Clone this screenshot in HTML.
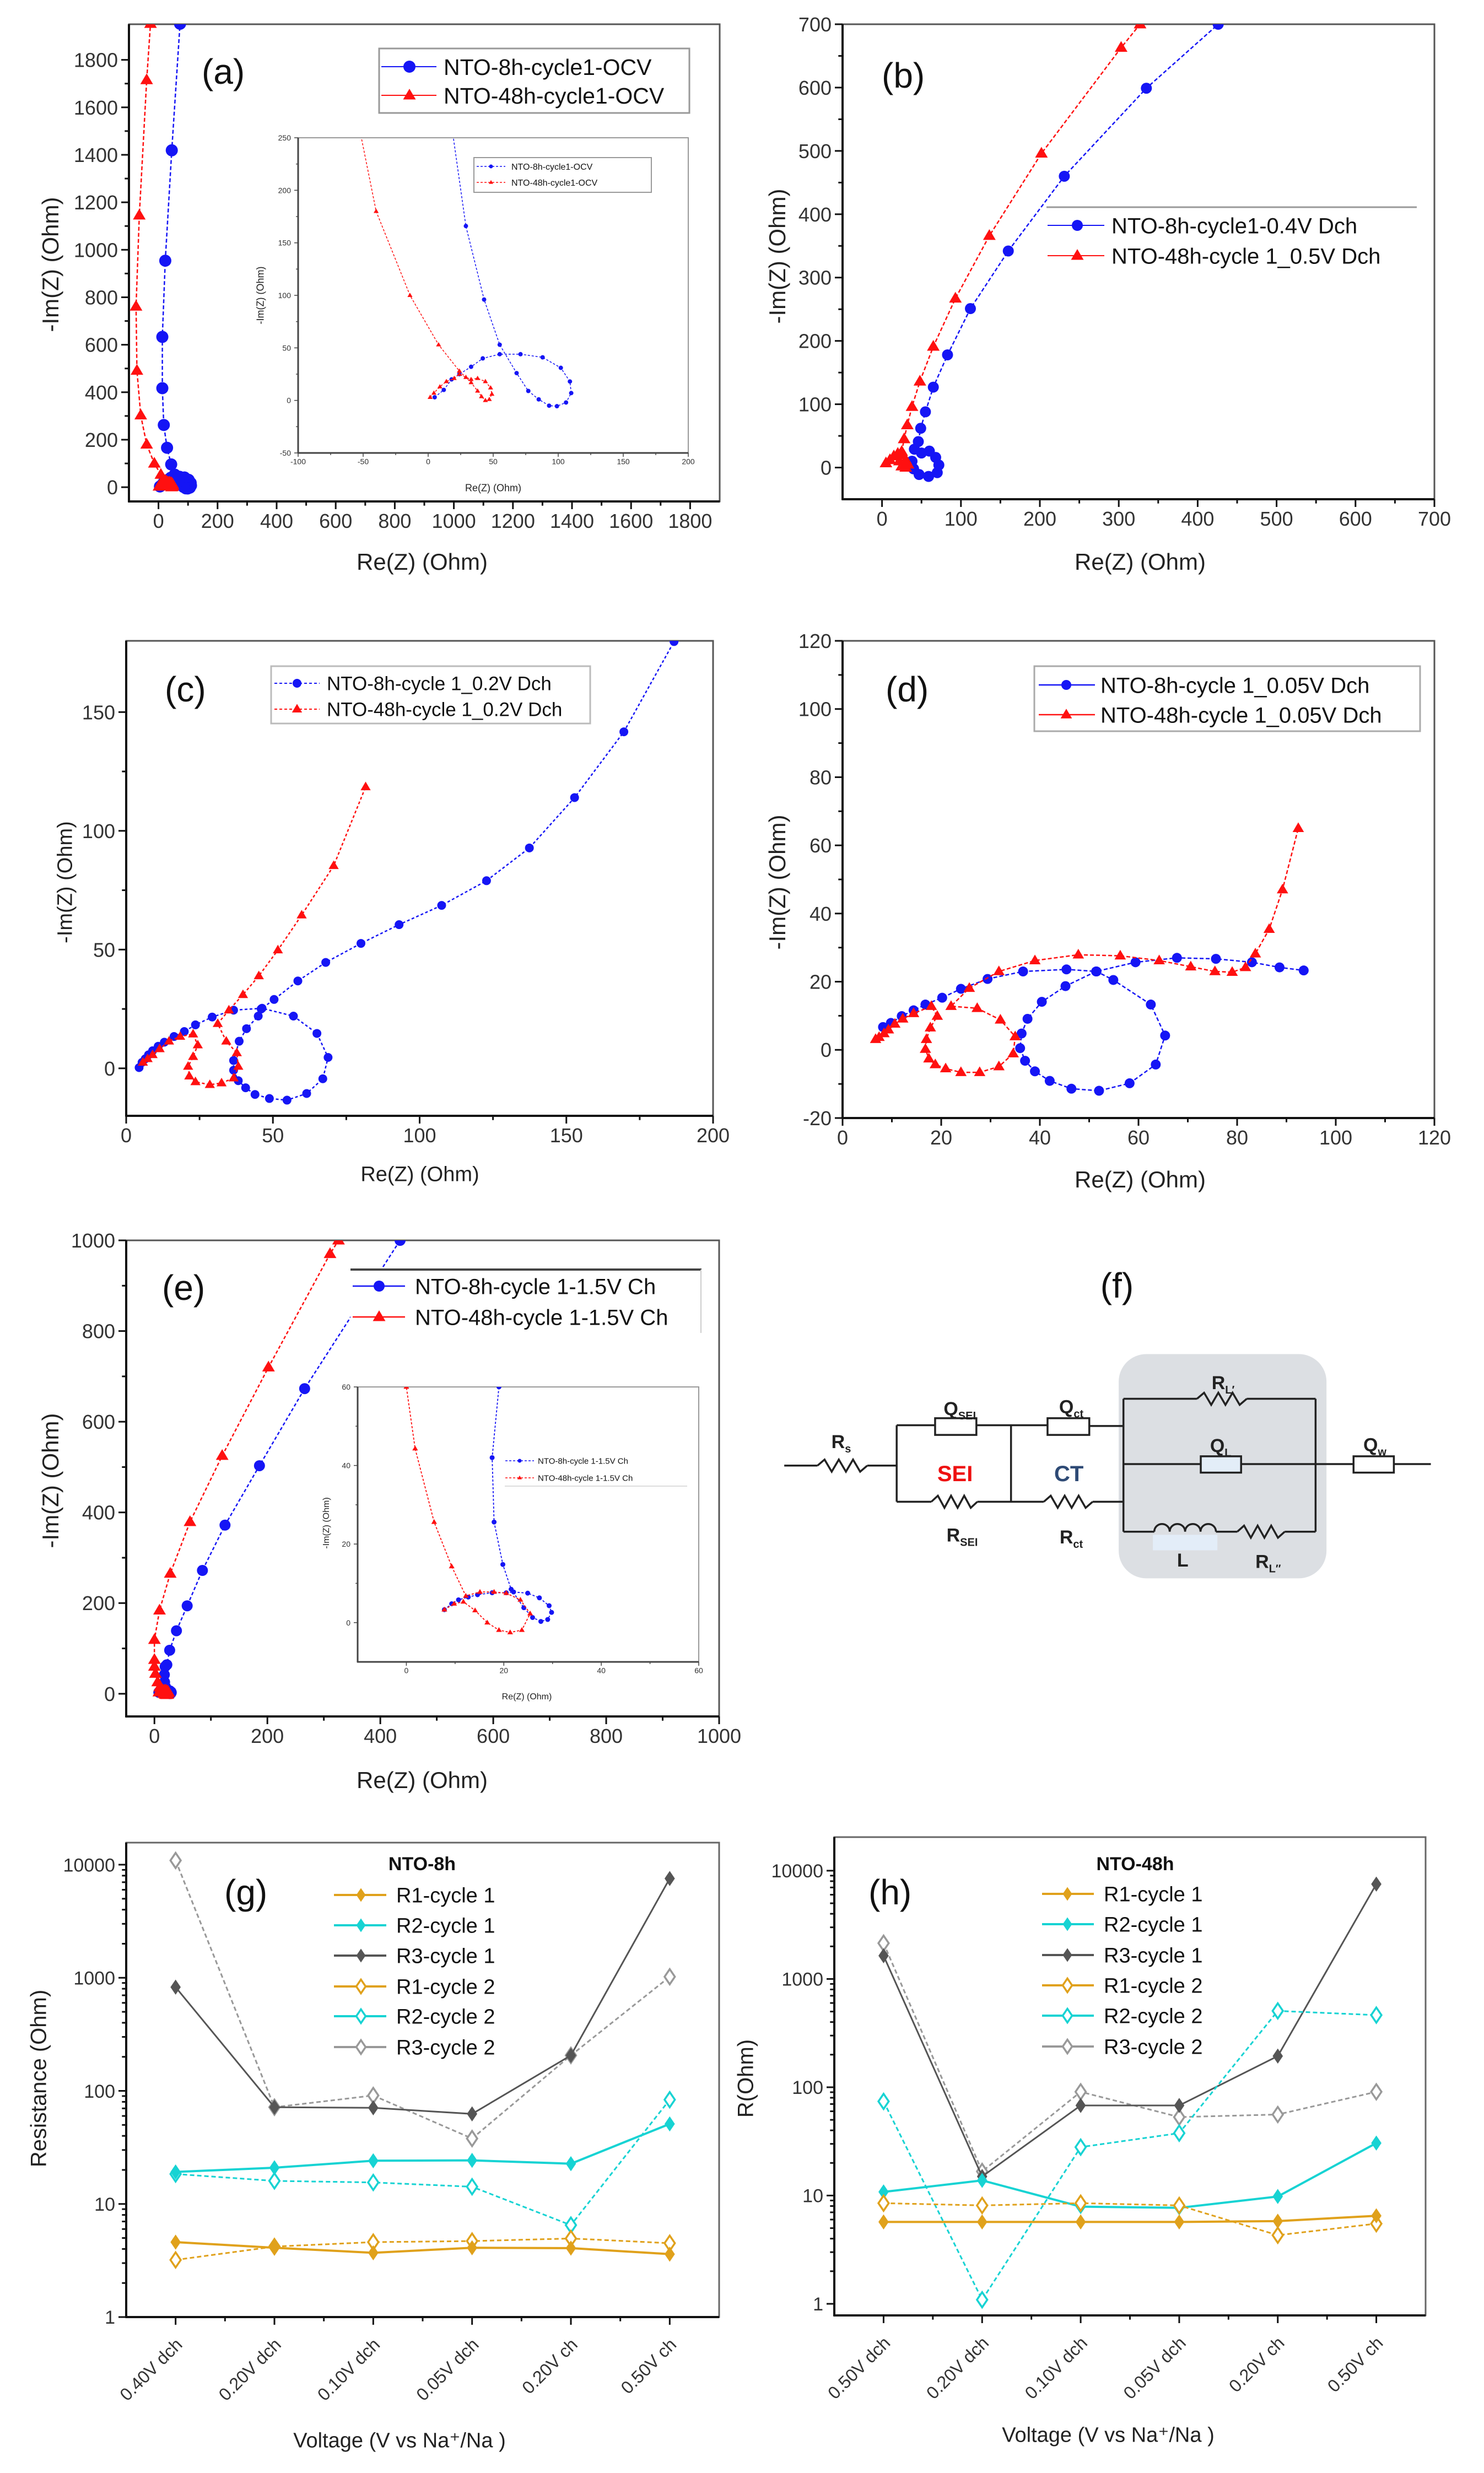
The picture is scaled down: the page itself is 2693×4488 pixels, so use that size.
<!DOCTYPE html>
<html><head><meta charset="utf-8"><style>
html,body{margin:0;padding:0;background:#fff;}
svg{display:block;font-family:"Liberation Sans",Arial,sans-serif;}
</style></head><body>
<svg id="fig" width="2693" height="4488" viewBox="0 0 2693 4488" xmlns="http://www.w3.org/2000/svg">
<rect x="0" y="0" width="2693" height="4488" fill="#fff"/>
</svg>
<script>
// ===== (a) data =====
const aBlueRe=[5,12,18,24,33,42,55,71,88,102,109,110,106,99,93,85,77,68,55,43,29,18,13,13,23,45,73];
const aBlueIm=[3,10,20,25,32,40,44,44,41,31,18,7,-2,-5.5,-5,1,9,26,53,96,166,262,417,633,954,1419,1952];
const aRedRe=[1.5,4.4,9,14,20,24,29,33,38,44,48,49,47,44,41,38,33,24,8,-14,-40,-60,-73,-76,-65,-40,-27];
const aRedIm=[3,7,13,18,21,25,22,20,21,18,12,6,1,0,3.7,9,17,28,53,100,180,303,491,761,1145,1715,1952];
const aXTicks=[0,200,400,600,800,1000,1200,1400,1600,1800];
const aYTicks=[0,200,400,600,800,1000,1200,1400,1600,1800];
const aInXTicks=[-100,-50,0,50,100,150,200];
const aInYTicks=[-50,0,50,100,150,200,250];
// ===== (b) data =====
const bBlueRe=[38,40,47,59,70,72,68,60,50,41,46,49,55,65,83,112,160,231,335,426];
const bBlueIm=[10,-2,-11,-14,-8,4,16,26,23,29,41,62,88,127,178,251,342,460,599,700];
const bRedRe=[5,10,15,20,26,30,33,30,25,22,25,28,32,38,48,65,93,136,202,303,327];
const bRedIm=[7,12,18,22,20,12,5,0,2,10,25,45,67,96,136,191,267,366,496,663,700];
const bXTicks=[0,100,200,300,400,500,600,700];
const bYTicks=[0,100,200,300,400,500,600,700];
// ===== (c) data =====
const cBlueRe=[4.4,5.4,6.5,7.6,9,10.9,13,16.3,19.8,23.6,29.3,36.6,46.3,57,65,68.8,67,61.5,54.8,48.8,43.9,40.7,38.2,36.6,36.6,38.5,41,45,46,50.4,58.5,68,80,93,107.5,122.8,137.4,152.8,169.6,186.7];
const cBlueIm=[0.3,2.5,4,5.7,7.4,9.3,11,13.4,15.5,18.3,21.6,24.5,25.3,22,14.7,4.6,-4.4,-10.6,-13.4,-12.7,-11,-8.2,-5.2,-0.8,3.3,11.4,16.7,22,25,29,36.8,44.6,52.6,60.5,68.6,79,92.8,114,141.7,179.7];
const cRedRe=[5.7,7.3,9,11.4,14.6,18.4,22.8,24.4,22.8,21.1,21.5,23.6,28.5,32.5,36.6,38.2,37.7,34.1,31.2,35,39.8,45.2,51.7,59.8,70.7,81.6];
const cRedIm=[2.5,4,5.7,8.2,11.4,13.4,14.4,9.8,4.9,0.8,-3.3,-5.7,-6.9,-6.2,-4.1,0.8,6.5,11.4,18.8,24.5,31,38.9,49.8,64.5,85.3,118.5];
const cXTicks=[0,50,100,150,200];
const cYTicks=[0,50,100,150];
// ===== (d) data =====
const dBlueRe=[8.2,9.8,12,14.4,16.8,20.2,24,29.4,36.6,45.4,51.5,54.9,62.5,65.4,63.5,58.2,52,46.4,42,39,37,36,36.3,37.5,40.4,45.2,51.4,59.4,67.8,75.7,83,88.6,93.5];
const dBlueIm=[6.7,7.9,9.9,11.6,13.3,15.3,17.9,20.8,23,23.6,23,20.5,13.3,4.2,-4.3,-9.8,-12,-11.4,-9.1,-6.3,-3.2,0.5,4.8,9.1,14.1,18.7,23,25.7,27,26.7,25.7,24.2,23.3];
const dRedRe=[6.7,7.4,8.4,9.3,10.6,12.2,14.4,18,19.2,17.8,17,16.8,17.5,18.8,20.9,24,27.8,31.7,34.6,35,32,27.3,22,25.7,31.7,39,47.8,56.3,64.2,70.6,75.5,79,81.7,83.7,86.5,89.2,92.4];
const dRedIm=[3.1,3.7,4.8,5.9,7.6,9.1,10.7,12.8,9.9,6.5,3.1,0.2,-2.6,-4.3,-5.5,-6.6,-6.6,-4.9,-1.1,3.9,8.8,12.2,12.8,18.1,23,26.2,27.9,27.6,26.2,24.4,23,22.8,24.2,28.2,35.4,47,65];
const dXTicks=[0,20,40,60,80,100,120];
const dYTicks=[-20,0,20,40,60,80,100,120];
// ===== (e) data =====
const eBlueRe=[7.8,9.3,10.7,12.7,14.6,17.6,20.5,22,24.9,27.3,29.3,29.8,29,27.6,25.9,24.1,21.5,19.8,18,17.6,19,22,27,39,58,85,125,186,266,435];
const eBlueIm=[3.3,4.8,5.8,6.5,7.1,7.6,7.6,7.8,7.5,6.3,4.3,2.6,0.8,0.3,1.3,3.8,8.5,14.8,25.6,42,60,64,96,139,194,272,372,503,673,1000];
const eRedRe=[7.8,9.8,11.7,14.1,16.6,19,21.3,23.7,25.4,23.4,20.5,18,15.1,12.2,9.3,5.7,1.8,0,0,0,9,28,63,120,202,311,326];
const eRedIm=[3.3,4.8,5.3,3.1,0,-1.9,-2.5,-1.9,2.3,5.8,7.5,7.8,7.8,6.8,14.3,25.6,44.3,60,75,119,184,265,379,525,720,970,1000];
const eXTicks=[0,200,400,600,800,1000];
const eYTicks=[0,200,400,600,800,1000];
const eInTicks=[0,20,40,60];
// ===== (g) data =====
const gCats=['0.40V dch','0.20V dch','0.10V dch','0.05V dch','0.20V ch','0.50V ch'];
const gR1c1=[4.6,4.1,3.7,4.1,4.07,3.6];
const gR2c1=[19.2,20.9,24.1,24.3,22.7,51];
const gR3c1=[826,71.7,70.8,62.6,206,7550];
const gR1c2=[3.2,4.2,4.6,4.7,4.95,4.5];
const gR2c2=[18.4,16,15.5,14.2,6.5,83.6];
const gR3c2=[10900,71.7,91,37.9,206,1021];
// ===== (h) data =====
const hCats=['0.50V dch','0.20V dch','0.10V dch','0.05V dch','0.20V ch','0.50V ch'];
const hR1c1=[5.7,5.7,5.7,5.7,5.8,6.5];
const hR2c1=[10.8,13.8,7.9,7.7,9.8,30.5];
const hR3c1=[1640,15,67.9,67.9,194,7520];
const hR1c2=[8.5,8.1,8.5,8.1,4.3,5.5];
const hR2c2=[74,1.09,28,37.7,507,464];
const hR3c2=[2140,16.7,90.8,53,56,90.8];
const logTicks=[1,10,100,1000,10000];

const NS='http://www.w3.org/2000/svg';
const svg=document.getElementById('fig');
function el(tag,attrs,parent){const e=document.createElementNS(NS,tag);for(const k in attrs)e.setAttribute(k,attrs[k]);(parent||svg).appendChild(e);return e;}
function txt(s,attrs,parent){const t=el('text',attrs,parent);t.textContent=s;return t;}
function scales(b,xr,yr,logY){
  const X=v=>b[0]+(v-xr[0])/(xr[1]-xr[0])*(b[2]-b[0]);
  const Y=logY?(v=>b[3]-(Math.log10(v)-yr[0])/(yr[1]-yr[0])*(b[3]-b[1])):(v=>b[3]-(v-yr[0])/(yr[1]-yr[0])*(b[3]-b[1]));
  return {X,Y};
}
let clipId=0;
function panelGroup(name){const g=el('g',{});return g;}
function clipGroup(g,b){
  const id='clip'+(clipId++);
  const cp=el('clipPath',{id:id},g);el('rect',{x:b[0],y:b[1],width:b[2]-b[0],height:b[3]-b[1]},cp);
  return el('g',{'clip-path':'url(#'+id+')'},g);
}
function frame(g,b,sc,xt,yt,o){
  const tl=o.tl,fs=o.fs;
  el('rect',{x:b[0],y:b[1],width:b[2]-b[0],height:b[3]-b[1],fill:'none',stroke:o.stroke,'stroke-width':o.lw},g);
  el('line',{x1:b[0],y1:b[1],x2:b[0],y2:b[3]+o.lw/2,stroke:o.axis,'stroke-width':o.lw+1},g);
  el('line',{x1:b[0]-o.lw/2,y1:b[3],x2:b[2],y2:b[3],stroke:o.axis,'stroke-width':o.lw+1},g);
  xt.forEach((v,i)=>{
    const x=sc.X(v);
    el('line',{x1:x,y1:b[3],x2:x,y2:b[3]+tl,stroke:o.axis,'stroke-width':o.tw},g);
    if(o.xLabels!==false){const t=txt(o.fmt?o.fmt(v):String(v),{x:x,y:b[3]+tl+fs*0.95,'font-size':fs,'text-anchor':'middle',fill:'#333'},g);}
    if(i<xt.length-1){const xm=sc.X((v+xt[i+1])/2);el('line',{x1:xm,y1:b[3],x2:xm,y2:b[3]+tl*0.55,stroke:o.axis,'stroke-width':o.tw},g);}
  });
  yt.forEach((v,i)=>{
    const y=sc.Y(v);
    el('line',{x1:b[0]-tl,y1:y,x2:b[0],y2:y,stroke:o.axis,'stroke-width':o.tw},g);
    const t=txt(String(v),{x:b[0]-tl-6,y:y+fs*0.36,'font-size':fs,'text-anchor':'end',fill:'#333'},g);
    
    
    if(o.log){ if(i<yt.length-1){for(let m=2;m<=9;m++){const ym=sc.Y(v*m);el('line',{x1:b[0]-tl*0.55,y1:ym,x2:b[0],y2:ym,stroke:o.axis,'stroke-width':o.tw},g);}} }
    else if(i<yt.length-1){const ym=sc.Y((v+yt[i+1])/2);el('line',{x1:b[0]-tl*0.55,y1:ym,x2:b[0],y2:ym,stroke:o.axis,'stroke-width':o.tw},g);}
  });
}
function marker(g,type,px,py,r,color){
  if(type==='circle')return el('circle',{cx:px,cy:py,r:r,fill:color},g);
  if(type==='tri')return el('polygon',{points:`${px},${py-r*1.2} ${px-r*1.15},${py+r*0.75} ${px+r*1.15},${py+r*0.75}`,fill:color},g);
  const pts=`${px},${py-r*1.25} ${px+r*0.85},${py} ${px},${py+r*1.25} ${px-r*0.85},${py}`;
  if(type==='dia')return el('polygon',{points:pts,fill:color},g);
  return el('polygon',{points:pts,fill:'#fff',stroke:color,'stroke-width':3.5},g);
}
function series(g,sc,b,xs,ys,color,mk,r,dash,lw,name){
  const pts=xs.map((x,i)=>sc.X(x).toFixed(1)+','+sc.Y(ys[i]).toFixed(1)).join(' ');
  const pl=el('polyline',{points:pts,fill:'none',stroke:color,'stroke-width':lw,'stroke-dasharray':dash},g);
  
  
  xs.forEach((x,i)=>{
    const px=sc.X(x),py=sc.Y(ys[i]);
    if(px<b[0]-2||px>b[2]+2||py<b[1]-2||py>b[3]+2)return;
    const m=marker(g,mk,px,py,r,color);
    
    
  });
}
function legendEntry(g,x1,x2,xm,y,color,mk,r,label,tx,fs,dash,lw){
  const ln=el('line',{x1:x1,y1:y,x2:x2,y2:y,stroke:color,'stroke-width':lw,'stroke-dasharray':dash||'none'},g);
  
  
  const m=marker(g,mk,xm,y,r,color);
  
  
  const t=txt(label,{x:tx,y:y+fs*0.36,'font-size':fs,fill:'#111'},g);
  
  
}
function xTitle(g,s,cx,cy,fs){const t=txt(s,{x:cx,y:cy+fs*0.36,'font-size':fs,'text-anchor':'middle',fill:'#222'},g);return t;}
function yTitle(g,s,cx,cy,fs){const t=txt(s,{x:cx,y:cy,'font-size':fs,'text-anchor':'middle',fill:'#222',transform:`rotate(-90 ${cx} ${cy}) translate(0 ${fs*0.36})`},g);return t;}
function pLabel(g,s,x,y,fs,anchor){const t=txt(s,{x:x,y:y,'font-size':fs,'text-anchor':anchor||'start',fill:'#111'},g);}

const BLUE='#1515f5',RED='#ff1010';
const mainO={tl:14,fs:36,stroke:'#555',axis:'#111',lw:3,tw:3};
const inO={tl:7,fs:14,stroke:'#999',axis:'#444',lw:2,tw:1.5};

// ===== Panel (a) =====
{
  const g=panelGroup('panel-a');
  const b=[234,44,1306,910];const sc=scales(b,[-100,1900],[-60,1950]);
  frame(g,b,sc,aXTicks,aYTicks,mainO);
  const cg=clipGroup(g,b);
  series(cg,sc,b,aBlueRe,aBlueIm,BLUE,'circle',11,'7 4',2.5,'a-blue');
  series(cg,sc,b,aRedRe,aRedIm,RED,'tri',10,'7 4',2.5,'a-red');
  // inset
  const ib=[541,250,1249,822];const isc=scales(ib,[-100,200],[-50,250]);
  el('rect',{x:ib[0],y:ib[1],width:ib[2]-ib[0],height:ib[3]-ib[1],fill:'#fff'},g);
  frame(g,ib,isc,aInXTicks,aInYTicks,inO);
  const icg=clipGroup(g,ib);
  series(icg,isc,ib,aBlueRe,aBlueIm,BLUE,'circle',4,'4 3',1.5,'a-inset-blue');
  series(icg,isc,ib,aRedRe,aRedIm,RED,'tri',4,'4 3',1.5,'a-inset-red');
  el('rect',{x:860,y:286,width:322,height:63,fill:'#fff',stroke:'#999','stroke-width':2},g);
  legendEntry(g,865,917,891,302,BLUE,'circle',3.5,'NTO-8h-cycle1-OCV',928,16,'4 3',1.5);
  legendEntry(g,865,917,891,331,RED,'tri',3.5,'NTO-48h-cycle1-OCV',928,16,'4 3',1.5);
  xTitle(g,'Re(Z) (Ohm)',895,885,18);
  yTitle(g,'-Im(Z) (Ohm)',472,536,18);
  el('rect',{x:688,y:88,width:563,height:117,fill:'#fff',stroke:'#999','stroke-width':3},g);
  legendEntry(g,692,792,743,121,BLUE,'circle',11,'NTO-8h-cycle1-OCV',805,41,'none',2);
  legendEntry(g,692,792,743,173,RED,'tri',10,'NTO-48h-cycle1-OCV',805,41,'none',2);
  pLabel(g,'(a)',366,152,64);
  xTitle(g,'Re(Z) (Ohm)',766,1019,42);
  yTitle(g,'-Im(Z) (Ohm)',91,480,42);
}
// ===== Panel (b) =====
{
  const g=panelGroup('panel-b');
  const b=[1529,44,2603,906];const sc=scales(b,[-50,700],[-50,700]);
  frame(g,b,sc,bXTicks,bYTicks,mainO);
  const cg=clipGroup(g,b);
  series(cg,sc,b,bBlueRe,bBlueIm,BLUE,'circle',10,'7 4',2.5,'b-blue');
  series(cg,sc,b,bRedRe,bRedIm,RED,'tri',10,'7 4',2.5,'b-red');
  el('rect',{x:1899,y:378,width:672,height:110,fill:'#fff'},g);
  el('line',{x1:1899,y1:376,x2:2571,y2:376,stroke:'#999','stroke-width':3},g);
  legendEntry(g,1901,2004,1955,409,BLUE,'circle',10,'NTO-8h-cycle1-0.4V Dch',2017,40,'none',2);
  legendEntry(g,1901,2004,1955,464,RED,'tri',10,'NTO-48h-cycle 1_0.5V Dch',2017,40,'none',2);
  pLabel(g,'(b)',1600,159,64);
  xTitle(g,'Re(Z) (Ohm)',2069,1019,42);
  yTitle(g,'-Im(Z) (Ohm)',1410,465,42);
}
// ===== Panel (c) =====
{
  const g=panelGroup('panel-c');
  const b=[229,1163,1294,2025];const sc=scales(b,[0,200],[-20,180]);
  frame(g,b,sc,cXTicks,cYTicks,mainO);
  const cg=clipGroup(g,b);
  series(cg,sc,b,cBlueRe,cBlueIm,BLUE,'circle',8,'5 4',2.5,'c-blue');
  series(cg,sc,b,cRedRe,cRedIm,RED,'tri',8,'5 4',2.5,'c-red');
  el('rect',{x:492,y:1209,width:579,height:104,fill:'#fff',stroke:'#bbb','stroke-width':3},g);
  legendEntry(g,498,580,539,1240,BLUE,'circle',8,'NTO-8h-cycle 1_0.2V Dch',593,35,'5 4',2);
  legendEntry(g,498,580,539,1287,RED,'tri',8,'NTO-48h-cycle 1_0.2V Dch',593,35,'5 4',2);
  pLabel(g,'(c)',299,1273,64);
  xTitle(g,'Re(Z) (Ohm)',762,2130,38);
  yTitle(g,'-Im(Z) (Ohm)',117,1601,38);
}
// ===== Panel (d) =====
{
  const g=panelGroup('panel-d');
  const b=[1529,1163,2603,2029];const sc=scales(b,[0,120],[-20,120]);
  frame(g,b,sc,dXTicks,dYTicks,mainO);
  const cg=clipGroup(g,b);
  series(cg,sc,b,dBlueRe,dBlueIm,BLUE,'circle',9,'7 4',2.5,'d-blue');
  series(cg,sc,b,dRedRe,dRedIm,RED,'tri',9,'7 4',2.5,'d-red');
  el('rect',{x:1877,y:1209,width:700,height:118,fill:'#fff',stroke:'#aaa','stroke-width':3},g);
  legendEntry(g,1885,1987,1935,1243,BLUE,'circle',9,'NTO-8h-cycle 1_0.05V Dch',1997,40,'none',2.5);
  legendEntry(g,1885,1987,1935,1297,RED,'tri',9,'NTO-48h-cycle 1_0.05V Dch',1997,40,'none',2.5);
  pLabel(g,'(d)',1607,1273,64);
  xTitle(g,'Re(Z) (Ohm)',2069,2140,42);
  yTitle(g,'-Im(Z) (Ohm)',1410,1601,42);
}
// ===== Panel (e) =====
{
  const g=panelGroup('panel-e');
  const b=[229,2251,1305,3115];const sc=scales(b,[-50,1000],[-50,1000]);
  frame(g,b,sc,eXTicks,eYTicks,mainO);
  const cg=clipGroup(g,b);
  series(cg,sc,b,eBlueRe,eBlueIm,BLUE,'circle',10,'6 4',2.5,'e-blue');
  series(cg,sc,b,eRedRe,eRedIm,RED,'tri',10,'6 4',2.5,'e-red');
  el('rect',{x:636,y:2306,width:636,height:113,fill:'#fff'},g);
  el('line',{x1:636,y1:2304,x2:1273,y2:2304,stroke:'#444','stroke-width':4},g);
  el('line',{x1:1272,y1:2304,x2:1272,y2:2419,stroke:'#ccc','stroke-width':2},g);
  legendEntry(g,640,735,688,2334,BLUE,'circle',10,'NTO-8h-cycle 1-1.5V Ch',753,40,'none',2.5);
  legendEntry(g,640,735,688,2390,RED,'tri',10,'NTO-48h-cycle 1-1.5V Ch',753,40,'none',2.5);
  const ib=[649,2517,1268,3016];const isc=scales(ib,[-10,60],[-10,60]);
  el('rect',{x:ib[0],y:ib[1],width:ib[2]-ib[0],height:ib[3]-ib[1],fill:'#fff'},g);
  frame(g,ib,isc,eInTicks,eInTicks,inO);
  const icg=clipGroup(g,ib);
  series(icg,isc,ib,eBlueRe,eBlueIm,BLUE,'circle',4.5,'4 3',1.8,'e-inset-blue');
  series(icg,isc,ib,eRedRe,eRedIm,RED,'tri',4.5,'4 3',1.8,'e-inset-red');
  el('rect',{x:916,y:2637,width:331,height:60,fill:'#fff'},g);
  el('line',{x1:916,y1:2697,x2:1247,y2:2697,stroke:'#ddd','stroke-width':2},g);
  legendEntry(g,917,969,943,2651,BLUE,'circle',3.5,'NTO-8h-cycle 1-1.5V Ch',976,15,'4 3',1.5);
  legendEntry(g,917,969,943,2682,RED,'tri',3.5,'NTO-48h-cycle 1-1.5V Ch',976,15,'4 3',1.5);
  xTitle(g,'Re(Z) (Ohm)',956,3078,16);
  yTitle(g,'-Im(Z) (Ohm)',591,2764,16);
  pLabel(g,'(e)',294,2359,64);
  xTitle(g,'Re(Z) (Ohm)',766,3230,42);
  yTitle(g,'-Im(Z) (Ohm)',91,2687,42);
}
// ===== Panel (f) circuit =====
{
  const g=panelGroup('panel-f-circuit');
  const C=(zx,zy)=>[1350+zx/1.1616,2200+zy/1.418];
  const W='#222';
  function wire(pts){const p=pts.map(q=>C(q[0],q[1]).join(',')).join(' ');el('polyline',{points:p,fill:'none',stroke:W,'stroke-width':3.5},g);}
  function res(zx1,zx2,zy){const a=C(zx1,zy),c=C(zx2,zy);const n=7;let p=[];for(let i=0;i<=n;i++){const x=a[0]+(c[0]-a[0])*i/n;let y=a[1];if(i>0&&i<n)y+=(i%2?-11:11);p.push(x+','+y);}const r=el('polyline',{points:p.join(' '),fill:'none',stroke:W,'stroke-width':3.5},g);}
  function cpe(zx1,zy1,zx2,zy2,fill){const a=C(zx1,zy1),c=C(zx2,zy2);const r=el('rect',{x:a[0],y:a[1],width:c[0]-a[0],height:c[1]-a[1],fill:fill,stroke:W,'stroke-width':3.5},g);}
  const bg0=C(790,365),bg1=C(1228,942);
  const box=el('rect',{x:bg0[0],y:bg0[1],width:bg1[0]-bg0[0],height:bg1[1]-bg0[1],rx:50,ry:50,fill:'#dcdfe3'},g);
  
  
  wire([[85,652],[155,652]]);res(155,260,652);wire([[260,652],[322,652]]);
  wire([[322,548],[322,745]]);
  wire([[322,548],[403,548]]);cpe(403,530,490,573,'#fff');wire([[490,548],[640,548]]);cpe(640,530,728,573,'#fff');wire([[728,550],[800,550]]);
  wire([[563,548],[563,745]]);
  wire([[322,745],[395,745]]);res(395,492,745);wire([[492,745],[632,745]]);res(632,735,745);wire([[735,745],[800,745]]);
  wire([[800,480],[800,822]]);wire([[1205,480],[1205,822]]);
  wire([[800,480],[955,480]]);res(955,1060,480);wire([[1060,480],[1205,480]]);
  wire([[800,648],[963,648]]);cpe(963,628,1048,670,'#e3edf8');wire([[1048,648],[1285,648]]);cpe(1285,628,1370,670,'#fff');wire([[1370,648],[1448,648]]);
  const lb0=C(862,830),lb1=C(998,870);el('rect',{x:lb0[0],y:lb0[1],width:lb1[0]-lb0[0],height:lb1[1]-lb0[1],fill:'#e3edf8'},g);
  wire([[800,822],[865,822]]);
  {const a=C(865,822),c=C(995,822);const w=(c[0]-a[0])/4;let d=`M${a[0]},${a[1]}`;for(let i=0;i<4;i++){d+=` a${w/2},${w/2} 0 0 1 ${w},0`;}const ind=el('path',{d:d,fill:'none',stroke:W,'stroke-width':3.5},g);}
  wire([[995,822],[1040,822]]);res(1040,1140,822);wire([[1140,822],[1205,822]]);
  function lab(main,sub,zx,zy,col,fs){const p=C(zx,zy);const t=el('text',{x:p[0],y:p[1]+12,'font-size':fs||34,'font-weight':'bold','text-anchor':'middle',fill:col||'#222'},g);const s1=el('tspan',{},t);s1.textContent=main;if(sub){const s2=el('tspan',{'font-size':20,dy:8},t);s2.textContent=sub;}}
  lab('R','s',205,590);lab('Q','SEI',455,505);lab('Q','ct',690,500);lab('R','L\u2032',1010,438);lab('Q','L',1005,600);lab('Q','w',1330,598);
  lab('SEI','',445,675,'#ee1111',40);lab('CT','',685,675,'#2e4a75',40);
  lab('R','SEI',460,830);lab('R','ct',690,835);lab('L','',925,895);lab('R','L\u2033',1105,898);
  pLabel(g,'(f)',2027,2355,64,'middle');
}
// ===== Panels (g) and (h) =====
function resPanel(name,b,yr,cats,r1c1,r2c1,r3c1,r1c2,r2c2,r3c2,title,label,lx,ly,leg,yT){
  const g=panelGroup(name);
  const sc=scales(b,[-0.5,5.5],yr,true);
  const ticksIdx=cats.map((c,i)=>i);
  frame(g,b,sc,ticksIdx,logTicks,{tl:14,fs:34,stroke:'#666',axis:'#111',lw:3,tw:3,log:true,xLabels:false});
  cats.forEach((c,i)=>{const x=sc.X(i);const t=txt(c,{x:x+14,y:b[3]+52,'font-size':32,'text-anchor':'end',fill:'#333',transform:`rotate(-45 ${x+14} ${b[3]+52})`},g);});
  const OR='#e0a11b',CY='#17d3d3',DG='#555',LG='#999';
  const cg=clipGroup(g,b);
  const idx=cats.map((c,i)=>i);
  series(cg,sc,b,idx,r3c2,LG,'open',11,'8 5',3,name+'-r3-cycle2');
  series(cg,sc,b,idx,r3c1,DG,'dia',11,'none',3,name+'-r3-cycle1');
  series(cg,sc,b,idx,r2c2,CY,'open',11,'8 5',3,name+'-r2-cycle2');
  series(cg,sc,b,idx,r2c1,CY,'dia',11,'none',4,name+'-r2-cycle1');
  series(cg,sc,b,idx,r1c2,OR,'open',11,'8 5',3,name+'-r1-cycle2');
  series(cg,sc,b,idx,r1c1,OR,'dia',11,'none',4,name+'-r1-cycle1');
  const t=txt(title,{x:leg.tx,y:3382+12,'font-size':34,'font-weight':'bold','text-anchor':'middle',fill:'#111'},g);
  
  
  const entries=[['R1-cycle 1',OR,'dia','none'],['R2-cycle 1',CY,'dia','none'],['R3-cycle 1',DG,'dia','none'],['R1-cycle 2',OR,'open','none'],['R2-cycle 2',CY,'open','none'],['R3-cycle 2',LG,'open','none']];
  entries.forEach((e,i)=>legendEntry(g,leg.x1,leg.x2,leg.xm,leg.ys[i],e[1],e[2],10,e[0],leg.text,38,e[3],4));
  pLabel(g,label,lx,ly,64);
  xTitle(g,'Voltage (V vs Na\u207A/Na )',leg.xtc,leg.xty,38);
  yTitle(g,yT.s,yT.x,yT.y,40);
}
resPanel('panel-g',[229,3344,1305,4205],[0,4.195],gCats,gR1c1,gR2c1,gR3c1,gR1c2,gR2c2,gR3c2,'NTO-8h','(g)',407,3456,
  {x1:606,x2:701,xm:655,text:719,tx:766,ys:[3439,3494,3549,3605,3659,3715],xtc:725,xty:4428},{s:'Resistance (Ohm)',x:69,y:3772});
resPanel('panel-h',[1514,3334,2587,4202],[-0.107,4.31],hCats,hR1c1,hR2c1,hR3c1,hR1c2,hR2c2,hR3c2,'NTO-48h','(h)',1576,3456,
  {x1:1891,x2:1985,xm:1937,text:2003,tx:2060,ys:[3437,3492,3548,3603,3658,3714],xtc:2011,xty:4418},{s:'R(Ohm)',x:1352,y:3772});
</script>
</body></html>
